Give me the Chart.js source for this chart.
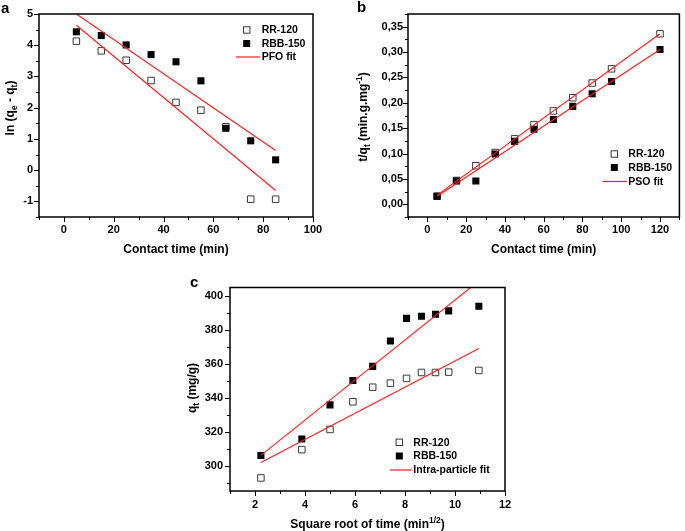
<!DOCTYPE html>
<html lang="en">
<head>
  <meta charset="UTF-8" />
  <title>Adsorption kinetics</title>
  <script src="https://cdn.jsdelivr.net/npm/chart.js"></script>
  <style>
    body {
      margin: 0;
      background: #ffffff;
      width: 685px;
      height: 531px;
      position: relative;
      overflow: hidden;
    }
    canvas {
      position: absolute;
    }
    #chartA { left: 0;     top: 0; }
    #chartB { left: 340px; top: 0; }
    #chartC { left: 160px; top: 262px; }
  </style>
</head>
<body>
  <canvas id="chartA" width="335" height="262"></canvas>
  <canvas id="chartB" width="345" height="262"></canvas>
  <canvas id="chartC" width="370" height="269"></canvas>

  <script>
    // ---- (a) pseudo first order ----
    const aTime = [5, 15, 25, 35, 45, 55, 65, 75, 85];
    const aRR   = [4.13, 3.82, 3.52, 2.87, 2.17, 1.92, 1.39, -0.93, -0.93];
    const aRBB  = [4.43, 4.31, 4.01, 3.70, 3.47, 2.86, 1.34, 0.94, 0.33];
    const aFitX   = [5, 85];
    const aFitRR  = [4.64, -0.65];
    const aFitRBB = [5.00, 0.63];
    const aXTicks = [0, 20, 40, 60, 80, 100];
    const aYTicks = [-1, 0, 1, 2, 3, 4, 5];

    // ---- (b) pseudo second order ----
    const bTime = [5, 15, 25, 35, 45, 55, 65, 75, 85, 95, 120];
    const bRR   = [0.016, 0.047, 0.076, 0.102, 0.129, 0.157, 0.184, 0.210, 0.239, 0.267, 0.336];
    const bRBB  = [0.016, 0.046, 0.046, 0.099, 0.124, 0.148, 0.167, 0.193, 0.218, 0.242, 0.305];
    const bFitX   = [5, 120];
    const bFitRR  = [0.018, 0.336];
    const bFitRBB = [0.016, 0.305];
    const bXTicks = [0, 20, 40, 60, 80, 100, 120];
    const bYTicks = [0, 0.05, 0.10, 0.15, 0.20, 0.25, 0.30, 0.35];

    // ---- (c) intra-particle diffusion ----
    const cRootTime = [2.236, 3.873, 5.000, 5.916, 6.708, 7.416, 8.062, 8.660, 9.220, 9.747, 10.954];
    const cRR   = [292.7, 309.4, 321.3, 337.6, 346.2, 348.6, 351.4, 354.9, 354.9, 355.1, 356.1];
    const cRBB  = [305.9, 315.7, 335.8, 350.2, 358.5, 373.4, 386.8, 388.0, 389.2, 391.2, 393.9];
    const cFitX   = [2.236, 10.954];
    const cFitRR  = [301.8, 369.0];
    const cFitRBB = [306.0, 408.9];
    const cXTicks = [2, 4, 6, 8, 10, 12];
    const cYTicks = [300, 320, 340, 360, 380, 400];

    const FONT = '"Liberation Sans", Arial, Helvetica, sans-serif';
    Chart.defaults.font.family = FONT;
    Chart.defaults.color = '#000';

    const pts = (xs, ys) => xs.map((x, i) => ({ x, y: ys[i] }));

    // draws text made of pieces, some of them sub- or superscript
    function richText(ctx, segs, x, y, size, rotated) {
      const fnt = s => `bold ${s}px ${FONT}`;
      let total = 0;
      const sized = segs.map(s => {
        const sz = (s.sub || s.sup) ? size * 0.7 : size;
        ctx.font = fnt(sz);
        const w = ctx.measureText(s.t).width;
        total += w;
        return { ...s, sz, w };
      });
      ctx.save();
      ctx.translate(x, y);
      if (rotated) ctx.rotate(-Math.PI / 2);
      ctx.textAlign = 'left';
      ctx.textBaseline = 'alphabetic';
      ctx.fillStyle = '#000';
      let cx = -total / 2;
      sized.forEach(s => {
        ctx.font = fnt(s.sz);
        const dy = s.sub ? size * 0.28 : s.sup ? -size * 0.42 : 0;
        ctx.fillText(s.t, cx, dy);
        cx += s.w;
      });
      ctx.restore();
    }

    // frame, ticks, axis titles, legend and panel letter
    const decor = {
      id: 'decor',
      afterDraw(chart, args, o) {
        const { ctx, chartArea: a, scales: { x, y } } = chart;
        ctx.save();
        ctx.strokeStyle = '#000';
        ctx.lineWidth = 1;
        ctx.beginPath();
        // x ticks
        for (let v = Math.ceil(x.min / o.xMinor) * o.xMinor; v <= x.max + 1e-9; v += o.xMinor) {
          const px = Math.round(x.getPixelForValue(v)) + 0.5;
          const major = x.ticks.some(t => Math.abs(t.value - v) < 1e-6);
          ctx.moveTo(px, a.bottom);
          ctx.lineTo(px, a.bottom + (major ? 5 : 3));
        }
        // y ticks
        for (let v = Math.ceil(y.min / o.yMinor) * o.yMinor; v <= y.max + 1e-9; v += o.yMinor) {
          const py = Math.round(y.getPixelForValue(v)) + 0.5;
          const major = y.ticks.some(t => Math.abs(t.value - v) < 1e-6);
          ctx.moveTo(a.left, py);
          ctx.lineTo(a.left - (major ? 5 : 3), py);
        }
        ctx.stroke();

        ctx.lineWidth = 1.5;
        ctx.strokeRect(a.left, a.top, a.right - a.left, a.bottom - a.top);

        richText(ctx, o.xTitle, (a.left + a.right) / 2, o.xTitleY, 12, false);
        richText(ctx, o.yTitle, o.yTitleX, o.yTitleY, 12, true);

        ctx.font = `bold 15px ${FONT}`;
        ctx.fillStyle = '#000';
        ctx.textAlign = 'left';
        ctx.textBaseline = 'alphabetic';
        ctx.fillText(o.letter, o.letterX, o.letterY);

        // legend
        const L = o.legend;
        const ds = chart.data.datasets;
        ctx.font = `bold 10.5px ${FONT}`;
        ctx.textBaseline = 'middle';
        [ds[0], ds[1]].forEach((d, i) => {
          const yy = L.y[i];
          ctx.fillStyle = d.backgroundColor;
          ctx.strokeStyle = d.borderColor;
          ctx.lineWidth = d.borderWidth;
          const h = i === 0 ? 3.2 : 3.5;
          ctx.fillRect(L.markX - h, yy - h, 2 * h, 2 * h);
          if (d.borderWidth) ctx.strokeRect(L.markX - h, yy - h, 2 * h, 2 * h);
          ctx.fillStyle = '#000';
          ctx.fillText(d.label, L.textX, yy + 0.5);
        });
        ctx.strokeStyle = ds[2].borderColor;
        ctx.lineWidth = 1.2;
        ctx.beginPath();
        ctx.moveTo(L.lineX[0], L.y[2]);
        ctx.lineTo(L.lineX[1], L.y[2]);
        ctx.stroke();
        ctx.fillStyle = '#000';
        ctx.fillText(L.fitLabel, L.textX, L.y[2] + 0.5);
        ctx.restore();
      }
    };

    function panel(id, p) {
      const tickFont = { size: 11, weight: 'bold' };
      return new Chart(document.getElementById(id), {
        type: 'scatter',
        data: {
          datasets: [
            {
              label: 'RR-120', data: pts(p.xs, p.rr), order: 2,
              pointStyle: 'rect', pointRadius: 4.6,
              backgroundColor: '#ffffff', borderColor: '#3a3a3a', borderWidth: 1
            },
            {
              label: 'RBB-150', data: pts(p.xs, p.rbb), order: 1,
              pointStyle: 'rect', pointRadius: 5,
              backgroundColor: '#000000', borderColor: '#000000', borderWidth: 0
            },
            {
              label: 'fit RR', data: pts(p.fitX, p.fitRR), order: 0,
              showLine: true, pointRadius: 0, borderColor: '#ff1a1a', borderWidth: 1.1
            },
            {
              label: 'fit RBB', data: pts(p.fitX, p.fitRBB), order: 0,
              showLine: true, pointRadius: 0, borderColor: '#ff1a1a', borderWidth: 1.1
            }
          ]
        },
        options: {
          responsive: false,
          animation: false,
          events: [],
          layout: { padding: p.pad },
          plugins: {
            legend: { display: false },
            tooltip: { enabled: false },
            decor: p.decor
          },
          scales: {
            x: {
              type: 'linear', min: p.xMin, max: p.xMax,
              afterBuildTicks: s => { s.ticks = p.xTicks.map(v => ({ value: v })); },
              afterFit: s => { s.height = 24; },
              grid: { display: false, drawTicks: false }, border: { display: false },
              ticks: { font: tickFont, color: '#000', padding: p.xPad, autoSkip: false, maxRotation: 0, callback: v => String(v) }
            },
            y: {
              type: 'linear', min: p.yMin, max: p.yMax,
              afterBuildTicks: s => { s.ticks = p.yTicks.map(v => ({ value: v })); },
              afterFit: s => { s.width = p.yWidth; },
              grid: { display: false, drawTicks: false }, border: { display: false },
              ticks: { font: tickFont, color: '#000', padding: p.yPad, autoSkip: false, callback: p.yFmt || (v => String(v)) }
            }
          }
        },
        plugins: [decor]
      });
    }

    panel('chartA', {
      xs: aTime, rr: aRR, rbb: aRBB, fitX: aFitX, fitRR: aFitRR, fitRBB: aFitRBB,
      xMin: -10, xMax: 100, yMin: -1.5, yMax: 5, xTicks: aXTicks, yTicks: aYTicks,
      pad: { top: 14, right: 22, bottom: 21, left: 0 }, yWidth: 39, xPad: 6, yPad: 6,
      decor: {
        xMinor: 10, yMinor: 0.5, letter: 'a', letterX: 1, letterY: 13,
        xTitle: [{ t: 'Contact time (min)' }], xTitleY: 253,
        yTitle: [{ t: 'ln (q' }, { t: 'e', sub: true }, { t: ' - q' }, { t: 't', sub: true }, { t: ')' }],
        yTitleX: 13.5, yTitleY: 108,
        legend: { markX: 246.7, textX: 261.7, y: [30, 43.5, 57], lineX: [236, 260], fitLabel: 'PFO fit' }
      }
    });

    panel('chartB', {
      xs: bTime, rr: bRR, rbb: bRBB, fitX: bFitX, fitRR: bFitRR, fitRBB: bFitRBB,
      xMin: -10, xMax: 130, yMin: -0.025, yMax: 0.375, xTicks: bXTicks, yTicks: bYTicks,
      pad: { top: 14, right: 2, bottom: 21, left: 0 }, yWidth: 68, xPad: 6, yPad: 5,
      yFmt: v => v.toFixed(2).replace('.', ','),
      decor: {
        xMinor: 10, yMinor: 0.025, letter: 'b', letterX: 17, letterY: 12,
        xTitle: [{ t: 'Contact time (min)' }], xTitleY: 253,
        yTitle: [{ t: 't/q' }, { t: 't', sub: true }, { t: ' (min.g.mg' }, { t: '-1', sup: true }, { t: ')' }],
        yTitleX: 27, yTitleY: 117,
        legend: { markX: 274.3, textX: 288.3, y: [154, 167.5, 181.5], lineX: [262.7, 286.7], fitLabel: 'PSO fit' }
      }
    });

    panel('chartC', {
      xs: cRootTime, rr: cRR, rbb: cRBB, fitX: cFitX, fitRR: cFitRR, fitRBB: cFitRBB,
      xMin: 1, xMax: 12, yMin: 285, yMax: 405, xTicks: cXTicks, yTicks: cYTicks,
      pad: { top: 25.5, right: 25, bottom: 16, left: 0 }, yWidth: 70, xPad: 7, yPad: 7,
      decor: {
        xMinor: 1, yMinor: 10, letter: 'c', letterX: 30, letterY: 25,
        xTitle: [{ t: 'Square root of time (min' }, { t: '1/2', sup: true }, { t: ')' }], xTitleY: 266,
        yTitle: [{ t: 'q' }, { t: 't', sub: true }, { t: ' (mg/g)' }],
        yTitleX: 35.5, yTitleY: 126,
        legend: { markX: 239.3, textX: 253.3, y: [180.3, 194, 208], lineX: [230, 251.7], fitLabel: 'Intra-particle fit' }
      }
    });
  </script>
</body>
</html>
